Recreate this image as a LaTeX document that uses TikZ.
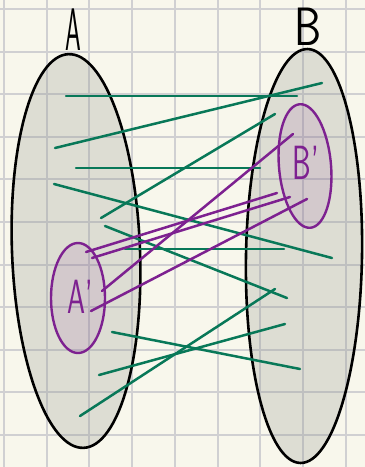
\documentclass[tikz,border=0pt]{standalone}
\usetikzlibrary{shapes.geometric}
\definecolor{bgc}{RGB}{248,247,236}
\definecolor{gridc}{RGB}{208,208,210}
\definecolor{setfill}{RGB}{144,147,140}
\definecolor{grn}{RGB}{8,120,88}
\definecolor{prp}{RGB}{125,33,144}
\tikzset{
  gridline/.style={draw=gridc, line width=2pt},
  setbig/.style={ellipse, draw=black, line width=2.6pt, fill=setfill, fill opacity=0.25, draw opacity=1, inner sep=0pt, outer sep=0pt},
  setsub/.style={ellipse, draw=prp, line width=2.4pt, fill=prp, fill opacity=0.1, draw opacity=1, inner sep=0pt, outer sep=0pt},
  glink/.style={draw=grn, line width=2.5pt, line cap=round},
  plink/.style={draw=prp, line width=2.5pt, line cap=round},
  biglabel/.style={font=\sffamily\fontsize{60}{60}\selectfont, inner sep=0pt},
  sublabel/.style={font=\sffamily\fontsize{48}{48}\selectfont, inner sep=0pt, text=prp}
}
\begin{document}
\begin{tikzpicture}[x=1pt,y=-1pt]
\useasboundingbox (0,0) rectangle (365,467);
\fill[bgc] (0,0) rectangle (365,467);
\foreach \i in {0,...,8} \draw[gridline] ({4+42.7*\i},0) -- ({4+42.7*\i},467);
\foreach \j in {0,...,10} \draw[gridline] (0,{9+42.6*\j}) -- (365,{9+42.6*\j});

% sets
\node[setbig, minimum width=128pt, minimum height=394pt, rotate=2.2] (A) at (76,251) {};
\node[setbig, minimum width=116pt, minimum height=414pt, rotate=-1] (B) at (304,256) {};
\node[setsub, minimum width=54pt, minimum height=110pt] (Ap) at (78,298) {};
\node[setsub, minimum width=52pt, minimum height=124pt, rotate=5] (Bp) at (305,166) {};

% labels
\node[biglabel] (labA) at (73,30) {\scalebox{0.42}[1]{A}};
\node[biglabel] (labB) at (308,27) {\scalebox{0.72}[0.9]{B}};
\node[sublabel] (labAp) at (80,297) {\scalebox{0.6}[1]{A'}};
\node[sublabel] (labBp) at (306,163) {\scalebox{0.62}[1]{B'}};

% endpoints
\coordinate (g1a) at (66,96);   \coordinate (g1b) at (297,96);
\coordinate (g2a) at (55,148);  \coordinate (g2b) at (322,83);
\coordinate (g3a) at (76,168);  \coordinate (g3b) at (260,168);
\coordinate (g4a) at (101,218); \coordinate (g4b) at (275,114);
\coordinate (g5a) at (54,184);  \coordinate (g5b) at (332,258);
\coordinate (g6a) at (105,226); \coordinate (g6b) at (287,298);
\coordinate (g7a) at (125,249); \coordinate (g7b) at (284,249);
\coordinate (g8a) at (112,332); \coordinate (g8b) at (300,369);
\coordinate (g9a) at (99,375);  \coordinate (g9b) at (285,324);
\coordinate (g10a) at (80,416); \coordinate (g10b) at (275,289);
\coordinate (p1a) at (86,252);  \coordinate (p1b) at (277,193);
\coordinate (p2a) at (92,258);  \coordinate (p2b) at (290,197);
\coordinate (p3a) at (102,291); \coordinate (p3b) at (293,134);
\coordinate (p4a) at (91,311);  \coordinate (p4b) at (307,199);

\foreach \k in {1,...,10} \draw[glink] (g\k a) -- (g\k b);
\foreach \k in {1,...,4} \draw[plink] (p\k a) -- (p\k b);
\end{tikzpicture}
\end{document}
